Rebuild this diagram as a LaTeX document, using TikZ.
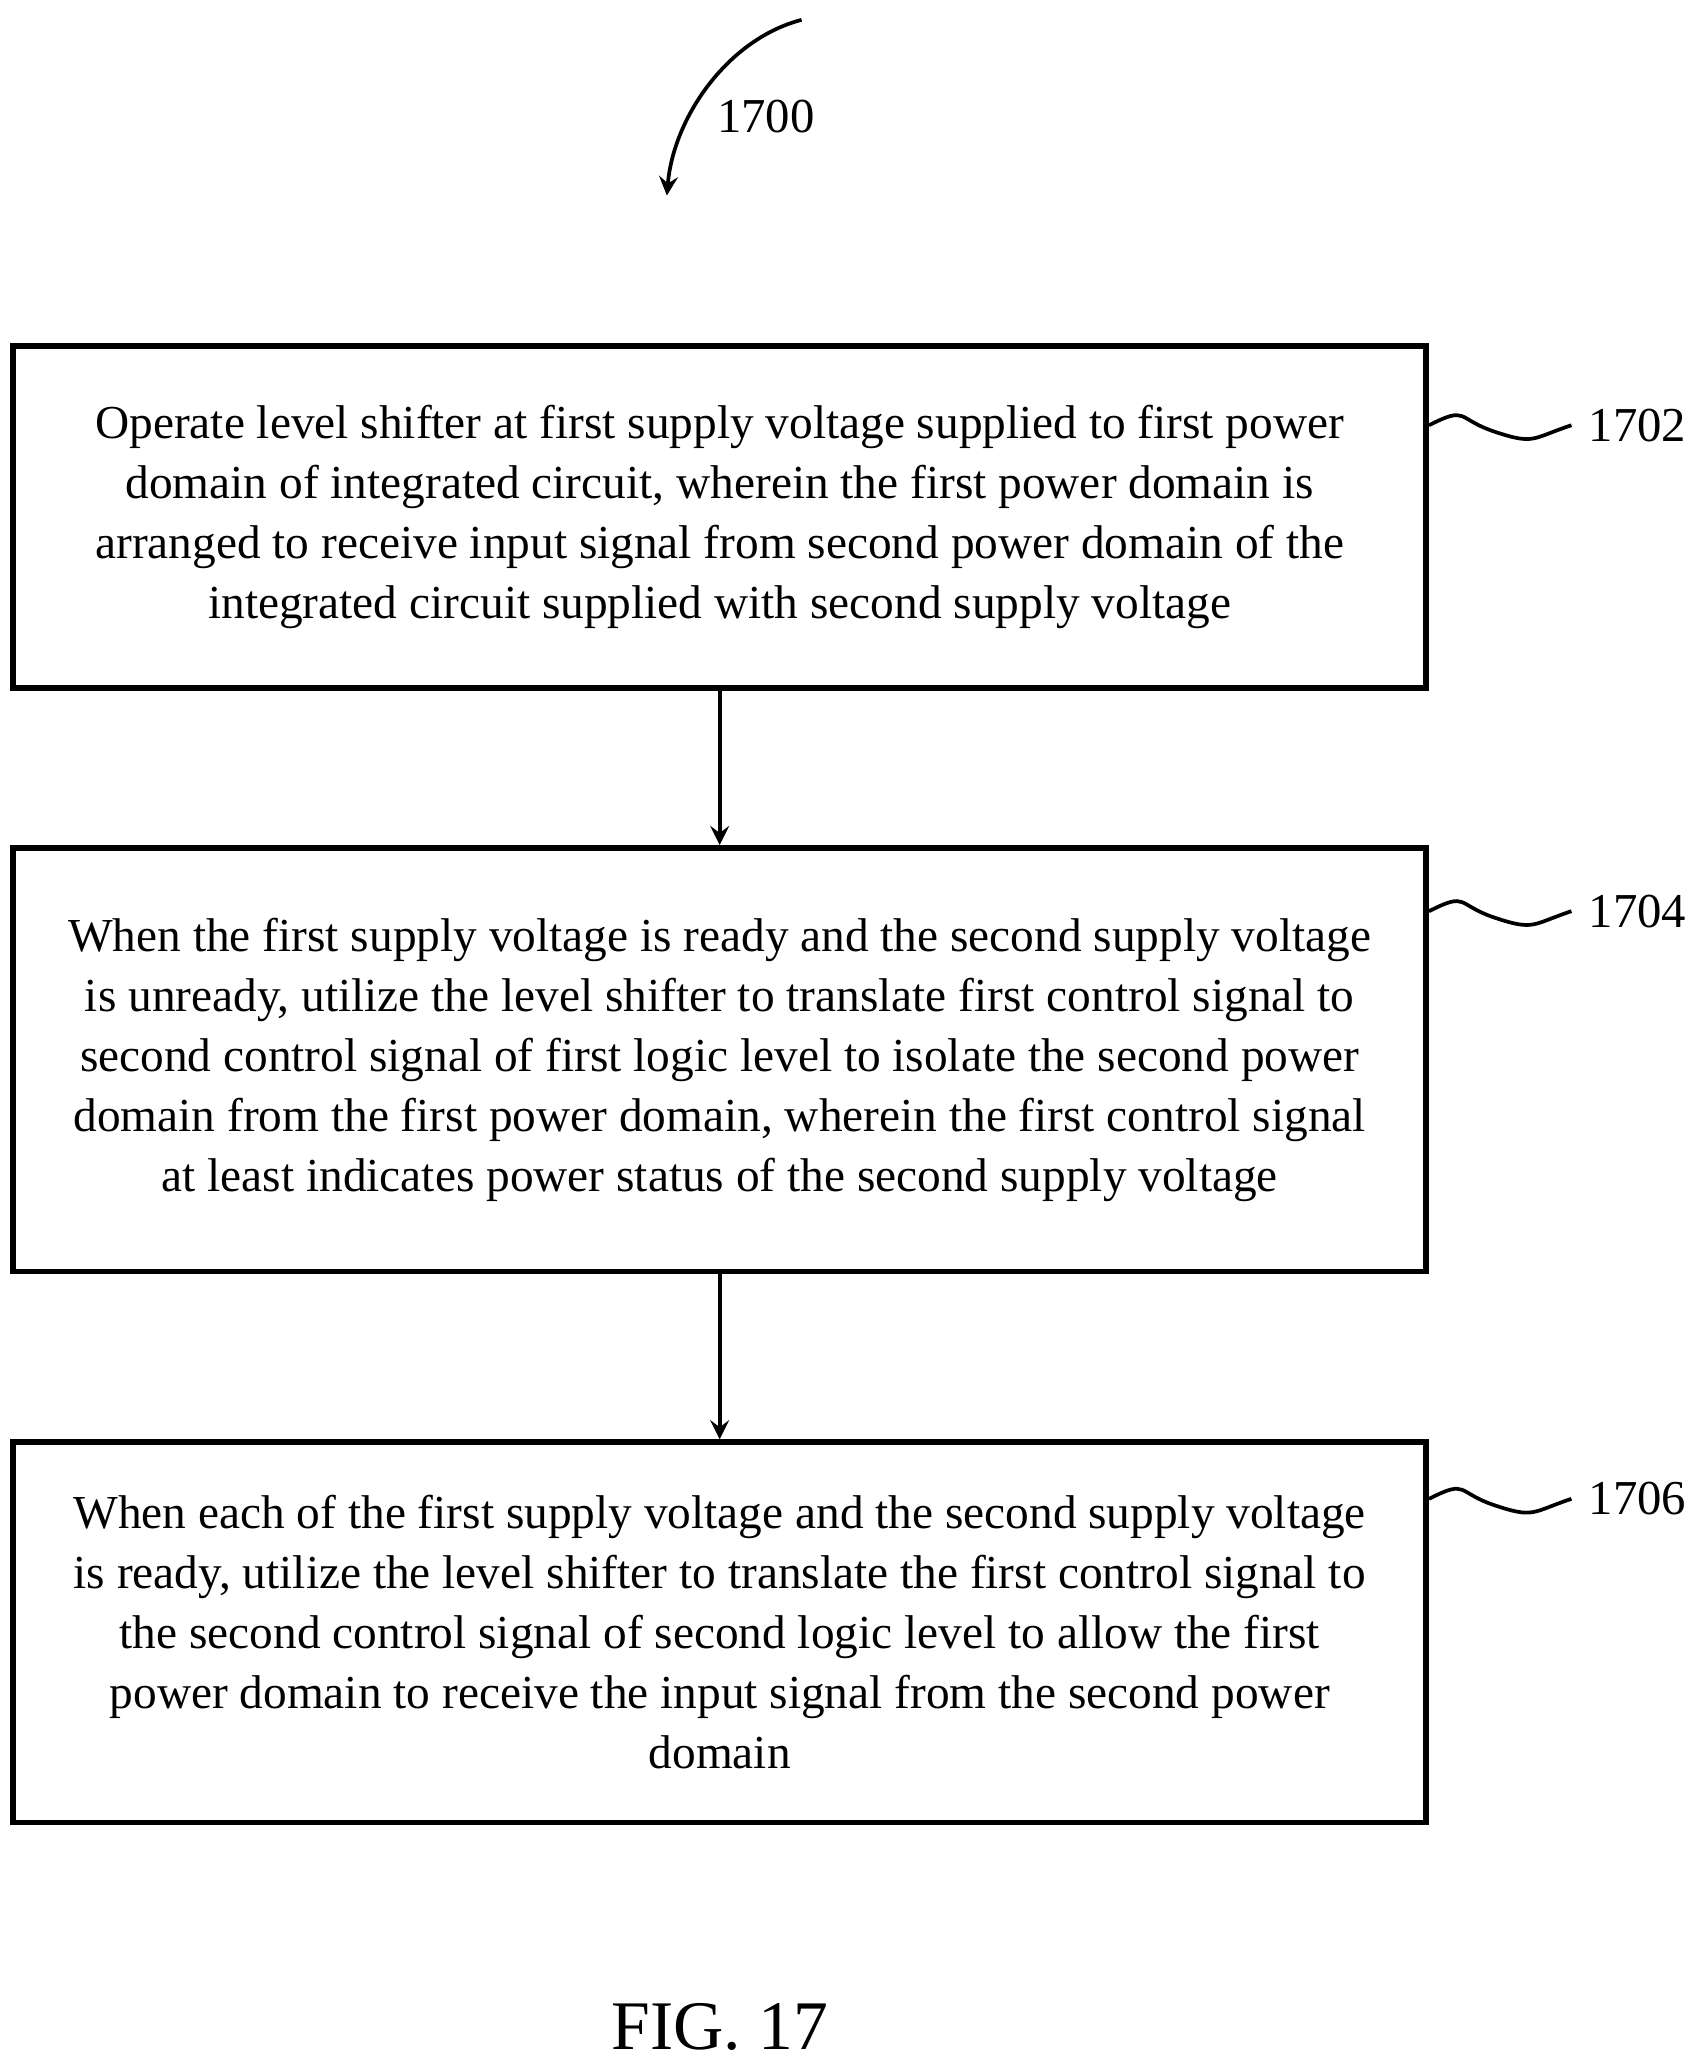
\documentclass[tikz,border=0pt]{standalone}
\usepackage{fontspec}
\setmainfont{Liberation Serif}
\usetikzlibrary{positioning, arrows}
\tikzstyle{block} = [draw, rectangle, line width=1.2pt, align=center,
    minimum width=10.7cm, inner sep=0pt,
    font=\fontsize{10.2pt}{12.9pt}\selectfont]
\tikzstyle{tag} = [font=\fontsize{10.5pt}{12pt}\selectfont, anchor=west]
\begin{document}
\begin{tikzpicture}[>=stealth, line width=0.8pt]
        \useasboundingbox (0,0) rectangle (12.8,-15.63);
        \node[block, minimum height=2.59cm] at (5.45,-3.915) (op) {Operate level shifter at first supply voltage supplied to first power\\domain of integrated circuit, wherein the first power domain is\\arranged to receive input signal from second power domain of the\\integrated circuit supplied with second supply voltage};
        \node[block, minimum height=3.21cm] at (5.45,-8.025) (iso) {When the first supply voltage is ready and the second supply voltage\\is unready, utilize the level shifter to translate first control signal to\\second control signal of first logic level to isolate the second power\\domain from the first power domain, wherein the first control signal\\at least indicates power status of the second supply voltage};
        \node[block, minimum height=2.88cm] at (5.45,-12.36) (allow) {When each of the first supply voltage and the second supply voltage\\is ready, utilize the level shifter to translate the first control signal to\\the second control signal of second logic level to allow the first\\power domain to receive the input signal from the second power\\domain};

        \draw[->] (op) -- (iso);
        \draw[->] (iso) -- (allow);

        % reference numerals
        \node[tag] at (11.9,-3.22) (n1702) {1702};
        \node[tag] at (11.9,-6.9) (n1704) {1704};
        \node[tag] at (11.9,-11.35) (n1706) {1706};
        \foreach \n in {n1702, n1704, n1706}
            \draw (op.east |- \n.west) ++(0,0) .. controls +(0.3,0.15) and +(-0.3,0.1) .. ++(0.5,-0.05)
                .. controls +(0.3,-0.1) and +(-0.3,-0.1) .. (\n.west);

        \node[tag] at (5.3,-0.88) (n1700) {1700};
        \coordinate (c1700) at (6.07,-0.15);
        \coordinate (t1700) at (5.05,-1.48);
        \draw[->] (c1700) .. controls (5.5,-0.3) and (5.1,-0.9) .. (t1700);

        \node[font=\fontsize{15pt}{18pt}\selectfont] at (5.45,-15.35) (fig) {FIG. 17};
\end{tikzpicture}
\end{document}
